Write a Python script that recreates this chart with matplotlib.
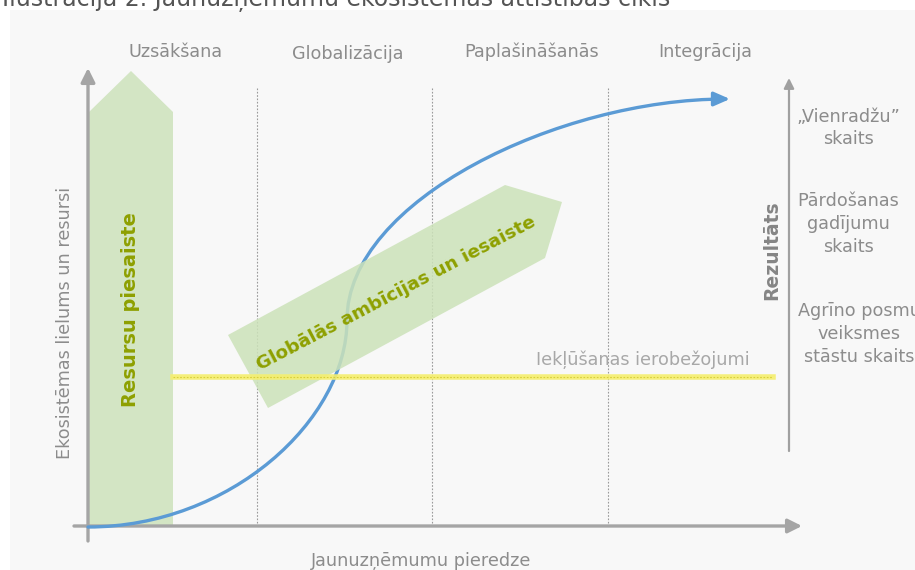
import matplotlib
matplotlib.use('Agg')
import matplotlib.pyplot as plt
from matplotlib.patches import Polygon, Rectangle, FancyArrowPatch
from matplotlib.path import Path

# diagram frame is in pixel units of the 915x570 picture (y grows downwards)
W, H = 915, 570

title = 'Ilustrācija 2. Jaunuzņēmumu ekosistēmas attīstības cikls'

phases = ['Uzsākšana', 'Globalizācija', 'Paplašināšanās', 'Integrācija']
phase_x = [176, 348, 532, 705]
phase_y = [52, 54, 52, 52]
bounds_x = [257, 432, 608]

# S-curve as two cubic Bezier segments
curve_pts = [(88, 527), (230, 527), (347, 420), (347, 320),
             (347, 200), (560, 99), (730, 99)]

up_arrow = [(89, 526), (89, 112), (131, 71), (173, 112), (173, 526)]
diag_arrow = [(268, 408), (228, 335), (505, 185), (562, 202), (545, 258)]

entry_y = 377
entry_x = [173, 773]

results = ['„Vienradžu”\nskaits', 'Pārdošanas\ngadījumu\nskaits',
           'Agrīno posmu\nveiksmes\nstāstu skaits']
results_x = [848, 848, 859]
results_y = [128, 224, 334]

gray = '#8c8c8c'
olive = '#8ea000'
green = '#d3e5c4'

fig = plt.figure(figsize=(9.15, 5.7), dpi=100)
ax = fig.add_axes([0, 0, 1, 1])
ax.set_xlim(0, W)
ax.set_ylim(H, 0)
ax.axis('off')

ax.add_patch(Rectangle((10, 10), W, H, facecolor='#f8f8f8', edgecolor='none', zorder=0))
ax.text(2, 6, title, fontsize=17, color='#555555', va='baseline', ha='left')

# phase borders and names
for bx in bounds_x:
    ax.plot([bx, bx], [88, 526], color='#9a9a9a', lw=0.8, ls=(0, (1.5, 1.5)), zorder=1)
for name, px, py in zip(phases, phase_x, phase_y):
    ax.text(px, py, name, fontsize=12.7, color=gray, ha='center', va='center')

# resources arrow
ax.add_patch(Polygon(up_arrow, closed=True, facecolor=green, edgecolor='none', zorder=1))
ax.text(131, 310, 'Resursu piesaiste', rotation=90, fontsize=14, fontweight='bold',
        color=olive, ha='center', va='center', zorder=6)

# axes
ax.annotate('', xy=(88, 68), xytext=(88, 541),
            arrowprops=dict(arrowstyle='-|>,head_length=0.7,head_width=0.35',
                            color='#a5a5a5', lw=2.4, mutation_scale=12, shrinkA=0, shrinkB=0),
            zorder=2)
ax.annotate('', xy=(802, 526), xytext=(74, 526),
            arrowprops=dict(arrowstyle='-|>,head_length=0.7,head_width=0.35',
                            color='#a5a5a5', lw=2.4, mutation_scale=12, shrinkA=0, shrinkB=0),
            zorder=2)

# S-curve
codes = [Path.MOVETO] + [Path.CURVE4] * 6
curve = FancyArrowPatch(path=Path(curve_pts, codes),
                        arrowstyle='-|>,head_length=0.8,head_width=0.35',
                        mutation_scale=12, color='#5b9bd5', lw=2.4, zorder=3)
ax.add_patch(curve)

# global ambitions arrow
ax.add_patch(Polygon(diag_arrow, closed=True, facecolor='#cce2b9', alpha=0.85,
                     edgecolor='none', zorder=4))
ax.text(396, 293, 'Globālās ambīcijas un iesaiste', rotation=27.7, rotation_mode='anchor',
        fontsize=13.2, fontweight='bold', color=olive, ha='center', va='center', zorder=6)

# entry barriers line
ax.plot(entry_x, [entry_y, entry_y], color='#f5ef6e', lw=4, alpha=0.9, zorder=5)
ax.plot(entry_x, [entry_y, entry_y], color='#d8cf3a', lw=0.8, ls=(0, (1.5, 1.5)), zorder=5)
ax.text(643, 360, 'Iekļūšanas ierobežojumi', fontsize=12.7, color='#a8a8a8',
        ha='center', va='center', zorder=6)

# axis titles
ax.text(65, 323, 'Ekosistēmas lielums un resursi', rotation=90, fontsize=12.7,
        color=gray, ha='center', va='center')
ax.text(421, 561, 'Jaunuzņēmumu pieredze', fontsize=12.7, color=gray,
        ha='center', va='center')

# results side
ax.annotate('', xy=(789, 78), xytext=(789, 451),
            arrowprops=dict(arrowstyle='-|>,head_length=0.6,head_width=0.3',
                            color='#a0a0a0', lw=1.6, mutation_scale=10, shrinkA=0, shrinkB=0))
ax.text(772, 250, 'Rezultāts', rotation=90, fontsize=13.5, fontweight='bold',
        color='#858585', ha='center', va='center')
for txt, rx, ry in zip(results, results_x, results_y):
    ax.text(rx, ry, txt, fontsize=12.7, color=gray, ha='center', va='center',
            linespacing=1.35, multialignment='center')

fig.savefig('out.png', dpi=100)
